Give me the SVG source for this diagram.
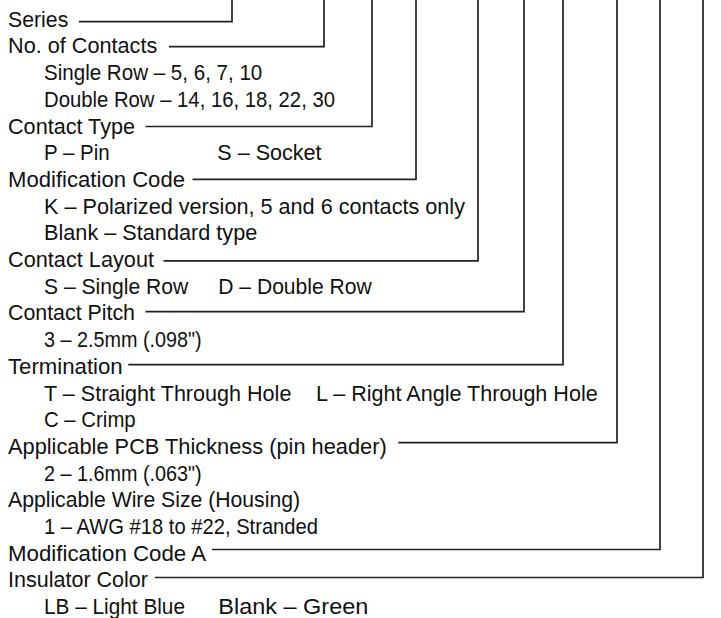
<svg xmlns="http://www.w3.org/2000/svg" width="721" height="618" viewBox="0 0 721 618">
<style>
text{font-family:"Liberation Sans",Arial,sans-serif;font-size:22px;fill:#111}
.c{fill:none;stroke:#222;stroke-width:1.7}
</style>
<rect width="721" height="618" fill="#fff"/>
<g id="connectors">
<polyline class="c" points="79,21.7 232,21.7 232,0"/>
<polyline class="c" points="169,46.7 324,46.7 324,0"/>
<polyline class="c" points="145.5,126.5 372,126.5 372,0"/>
<polyline class="c" points="192.5,179.3 416,179.3 416,0"/>
<polyline class="c" points="163.5,260.8 478,260.8 478,0"/>
<polyline class="c" points="145.5,311.7 524,311.7 524,0"/>
<polyline class="c" points="128.3,364.7 563,364.7 563,0"/>
<polyline class="c" points="398.3,442.7 617,442.7 617,0"/>
<polyline class="c" points="212,549.5 660,549.5 660,0"/>
<polyline class="c" points="155,577.5 703,577.5 703,0"/>
</g>
<g id="series"><text x="8" y="26.7" textLength="60.3" lengthAdjust="spacingAndGlyphs">Series</text></g>
<g id="contacts">
<text x="8" y="53.4" textLength="149.3" lengthAdjust="spacingAndGlyphs">No. of Contacts</text>
<text x="44" y="80.1" textLength="218.3" lengthAdjust="spacingAndGlyphs">Single Row – 5, 6, 7, 10</text>
<text x="44" y="106.8" textLength="291" lengthAdjust="spacingAndGlyphs">Double Row – 14, 16, 18, 22, 30</text>
</g>
<g id="contact-type">
<text x="8" y="133.5" textLength="127" lengthAdjust="spacingAndGlyphs">Contact Type</text>
<text x="44" y="160.2" textLength="65.7" lengthAdjust="spacingAndGlyphs">P – Pin</text>
<text x="217.3" y="160.2" textLength="104.3" lengthAdjust="spacingAndGlyphs">S – Socket</text>
</g>
<g id="modification-code">
<text x="8" y="186.9" textLength="177" lengthAdjust="spacingAndGlyphs">Modification Code</text>
<text x="44" y="213.6" textLength="421" lengthAdjust="spacingAndGlyphs">K – Polarized version, 5 and 6 contacts only</text>
<text x="44" y="240.3" textLength="213.3" lengthAdjust="spacingAndGlyphs">Blank – Standard type</text>
</g>
<g id="contact-layout">
<text x="8" y="267" textLength="146" lengthAdjust="spacingAndGlyphs">Contact Layout</text>
<text x="44" y="293.7" textLength="144.3" lengthAdjust="spacingAndGlyphs">S – Single Row</text>
<text x="218.3" y="293.7" textLength="153.4" lengthAdjust="spacingAndGlyphs">D – Double Row</text>
</g>
<g id="contact-pitch">
<text x="8" y="320.4" textLength="127" lengthAdjust="spacingAndGlyphs">Contact Pitch</text>
<text x="44" y="347.1" textLength="157.7" lengthAdjust="spacingAndGlyphs">3 – 2.5mm (.098")</text>
</g>
<g id="termination">
<text x="8" y="373.8" textLength="114.7" lengthAdjust="spacingAndGlyphs">Termination</text>
<text x="44" y="400.5" textLength="247.4" lengthAdjust="spacingAndGlyphs">T – Straight Through Hole</text>
<text x="316" y="400.5" textLength="281.7" lengthAdjust="spacingAndGlyphs">L – Right Angle Through Hole</text>
<text x="44" y="427.2" textLength="91.7" lengthAdjust="spacingAndGlyphs">C – Crimp</text>
</g>
<g id="pcb-thickness">
<text x="8" y="453.9" textLength="378.7" lengthAdjust="spacingAndGlyphs">Applicable PCB Thickness (pin header)</text>
<text x="44" y="480.6" textLength="157.7" lengthAdjust="spacingAndGlyphs">2 – 1.6mm (.063")</text>
</g>
<g id="wire-size">
<text x="8" y="507.3" textLength="292" lengthAdjust="spacingAndGlyphs">Applicable Wire Size (Housing)</text>
<text x="44" y="534" textLength="274" lengthAdjust="spacingAndGlyphs">1 – AWG #18 to #22, Stranded</text>
</g>
<g id="modification-code-a">
<text x="8" y="560.7" textLength="198" lengthAdjust="spacingAndGlyphs">Modification Code A</text>
</g>
<g id="insulator-color">
<text x="8" y="587.4" textLength="140" lengthAdjust="spacingAndGlyphs">Insulator Color</text>
<text x="44" y="614.1" textLength="141" lengthAdjust="spacingAndGlyphs">LB – Light Blue</text>
<text x="218.3" y="614.1" textLength="150" lengthAdjust="spacingAndGlyphs">Blank – Green</text>
</g>
</svg>
